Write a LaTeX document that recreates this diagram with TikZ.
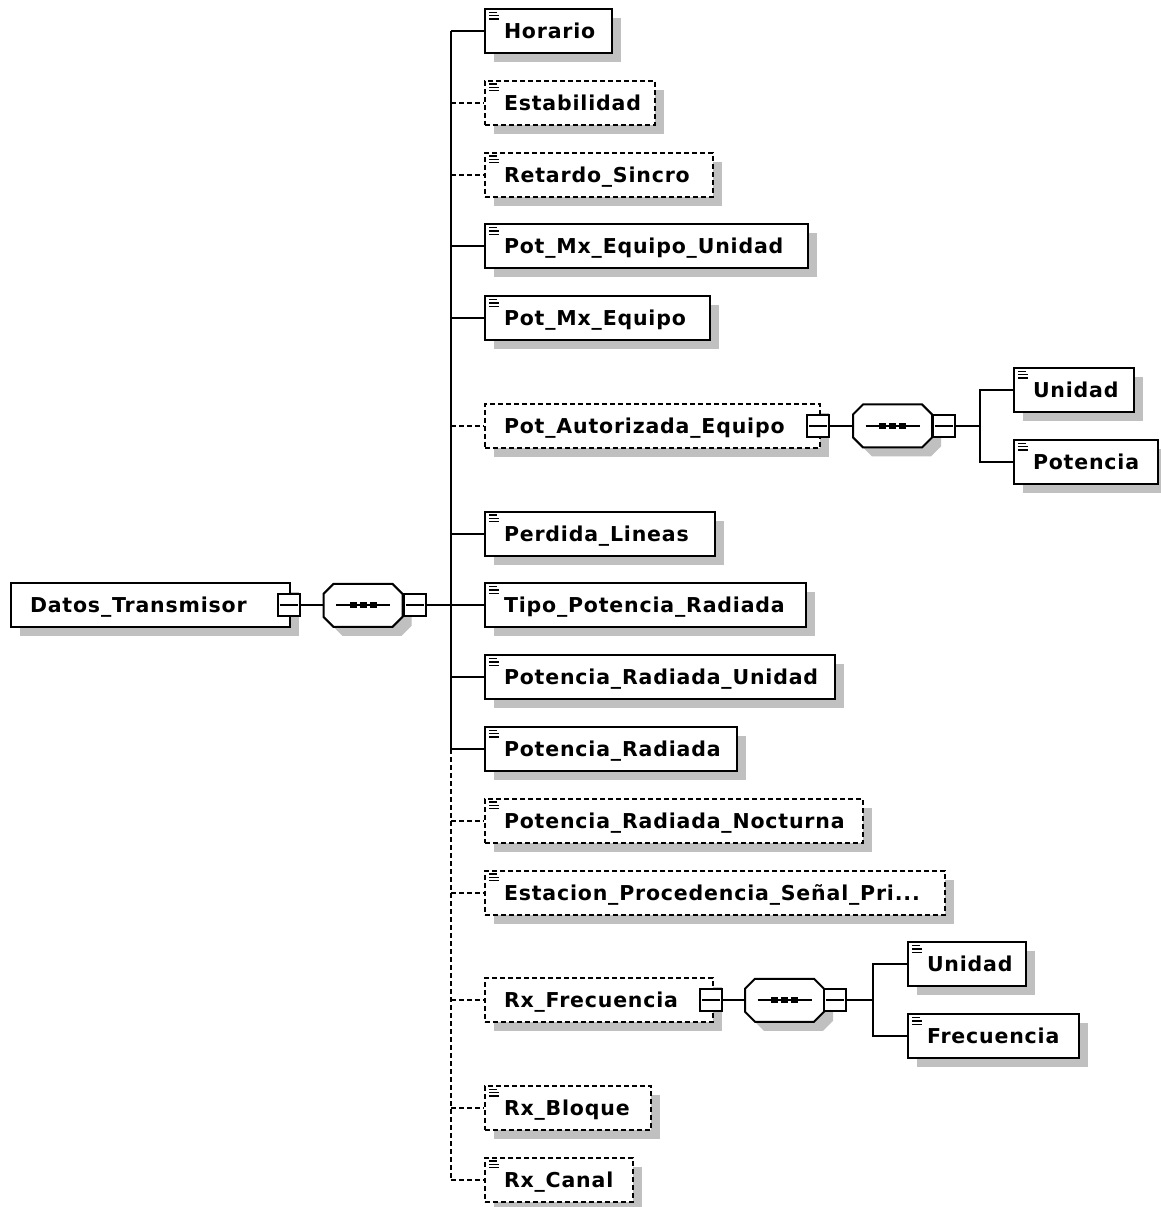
\documentclass[tikz,border=0pt]{standalone}
\usepackage{fontspec}
\newfontfamily\lblfont[LetterSpace=4]{DejaVu Sans}
\usetikzlibrary{calc,shadows}
\definecolor{shadowgray}{RGB}{192,192,192}
\tikzset{
  conn/.style={line width=2pt},
  optline/.style={dash pattern=on 5pt off 3pt},
  elbox/.style={draw, line width=2pt, fill=white, anchor=west, minimum height=44pt,
    inner xsep=19pt, inner ysep=0pt, text height=19.5pt, text depth=4.5pt,
    font=\lblfont\bfseries\fontsize{20.5}{24}\selectfont,
    drop shadow={shadow xshift=9pt, shadow yshift=-9pt, fill=shadowgray, opacity=1}},
  minusbox/.style={draw, line width=2pt, fill=white, minimum size=22pt, inner sep=0pt},
  comp/.style={inner sep=0pt, minimum width=79pt, minimum height=43pt},
  iconline/.style={line width=1.3pt},
}
\newcommand\elem[6]{%
  \pgfmathsetmacro\tw{#4-#3-38}%
  \node[elbox,#1] (#2) at (#3,#5) {\makebox[\tw pt][l]{#6}};%
}
\newcommand\elicon[1]{%
  \draw[iconline] ($(#1.north west)+(5,4.3)$) -- ++(8,0);
  \draw[iconline] ($(#1.north west)+(5,7.7)$) -- ++(10,0);
  \draw[iconline] ($(#1.north west)+(5,11)$) -- ++(10,0);
}
\newcommand\minusbx[3]{%
  \node[minusbox] (#1) at (#2,#3) {};
  \draw[conn] ($(#1.west)+(3,0)$) -- ($(#1.east)+(-3,0)$);
}
\newcommand\seqcomp[3]{%
  \node[comp] (#1) at (#2,#3) {};
  \fill[shadowgray, shift={({#2+9},{#3+9})}] (-29.5,-21.5) -- (29.5,-21.5) -- (39.5,-11.5) -- (39.5,11.5) -- (29.5,21.5) -- (-29.5,21.5) -- (-39.5,11.5) -- (-39.5,-11.5) -- cycle;
  \draw[conn, fill=white, shift={(#2,#3)}] (-29.5,-21.5) -- (29.5,-21.5) -- (39.5,-11.5) -- (39.5,11.5) -- (29.5,21.5) -- (-29.5,21.5) -- (-39.5,11.5) -- (-39.5,-11.5) -- cycle;
  \draw[conn, shift={(#2,#3)}] (-27,0) -- (27,0);
  \foreach \dx in {-10,0,10} {\fill[shift={(#2,#3)}] ({\dx-3.5},-3) rectangle ++(7,6);}
}
\begin{document}
\begin{tikzpicture}[x=1pt,y=-1pt]
\useasboundingbox (0,0) rectangle (1161,1207);
\fill[white] (0,0) rectangle (1161,1207);

% root and main sequence
\elem{}{root}{10}{289}{605.4}{Datos\_Transmisor}
\minusbx{rootm}{288.5}{605.4}
\seqcomp{c1}{363}{605.4}
\minusbx{c1m}{414.5}{605.4}
\coordinate (bus) at (451,605.4);
\draw[conn] (rootm.east) -- (c1.west);
\draw[conn] (c1m.east) -- (bus);

% children
\elem{}{horario}{484}{611}{31}{Horario}
\elem{optline}{estab}{484}{654}{102.8}{Estabilidad}
\elem{optline}{retardo}{484}{712}{174.6}{Retardo\_Sincro}
\elem{}{pmeu}{484}{807}{246.4}{Pot\_Mx\_Equipo\_Unidad}
\elem{}{pme}{484}{709}{318.2}{Pot\_Mx\_Equipo}
\elem{optline}{pae}{484}{819}{425.9}{Pot\_Autorizada\_Equipo}
\elem{}{perdida}{484}{714}{533.6}{Perdida\_Lineas}
\elem{}{tipo}{484}{805}{605.4}{Tipo\_Potencia\_Radiada}
\elem{}{pru}{484}{834}{677.2}{Potencia\_Radiada\_Unidad}
\elem{}{pr}{484}{736}{749}{Potencia\_Radiada}
\elem{optline}{prn}{484}{862}{820.8}{Potencia\_Radiada\_Nocturna}
\elem{optline}{estacion}{484}{944}{892.6}{Estacion\_Procedencia\_Señal\_Pri...}
\elem{optline}{rxf}{484}{712}{1000.3}{Rx\_Frecuencia}
\elem{optline}{rxb}{484}{650}{1108}{Rx\_Bloque}
\elem{optline}{rxc}{484}{632}{1179.8}{Rx\_Canal}
\foreach \n in {horario,estab,retardo,pmeu,pme,perdida,tipo,pru,pr,prn,estacion,rxb,rxc} {\elicon{\n}}

% bus
\draw[conn] (bus |- horario.west) -- (bus |- pr.west);
\draw[conn,optline] (bus |- pr.west) -- (bus |- rxc.west);
\foreach \n in {horario,pmeu,pme,perdida,tipo,pru,pr} {\draw[conn] (bus |- \n.west) -- (\n.west);}
\foreach \n in {estab,retardo,pae,prn,estacion,rxf,rxb,rxc} {\draw[conn,optline] (bus |- \n.west) -- (\n.west);}

% Pot_Autorizada_Equipo sub-sequence
\minusbx{paem}{818}{425.9}
\seqcomp{c2}{892.5}{425.9}
\minusbx{c2m}{943.5}{425.9}
\coordinate (bus2) at (980,425.9);
\draw[conn] (paem.east) -- (c2.west);
\draw[conn] (c2m.east) -- (bus2);
\elem{}{unid1}{1013}{1133}{390}{Unidad}
\elem{}{pot1}{1013}{1157}{462}{Potencia}
\elicon{unid1}\elicon{pot1}
\draw[conn] (unid1.west) -- (bus2 |- unid1.west) -- (bus2 |- pot1.west) -- (pot1.west);

% Rx_Frecuencia sub-sequence
\minusbx{rxfm}{711}{1000.3}
\seqcomp{c3}{784.5}{1000.3}
\minusbx{c3m}{835}{1000.3}
\coordinate (bus3) at (873,1000.3);
\draw[conn] (rxfm.east) -- (c3.west);
\draw[conn] (c3m.east) -- (bus3);
\elem{}{unid2}{907}{1025}{964.4}{Unidad}
\elem{}{frec2}{907}{1078}{1036.2}{Frecuencia}
\elicon{unid2}\elicon{frec2}
\draw[conn] (unid2.west) -- (bus3 |- unid2.west) -- (bus3 |- frec2.west) -- (frec2.west);
\end{tikzpicture}
\end{document}
